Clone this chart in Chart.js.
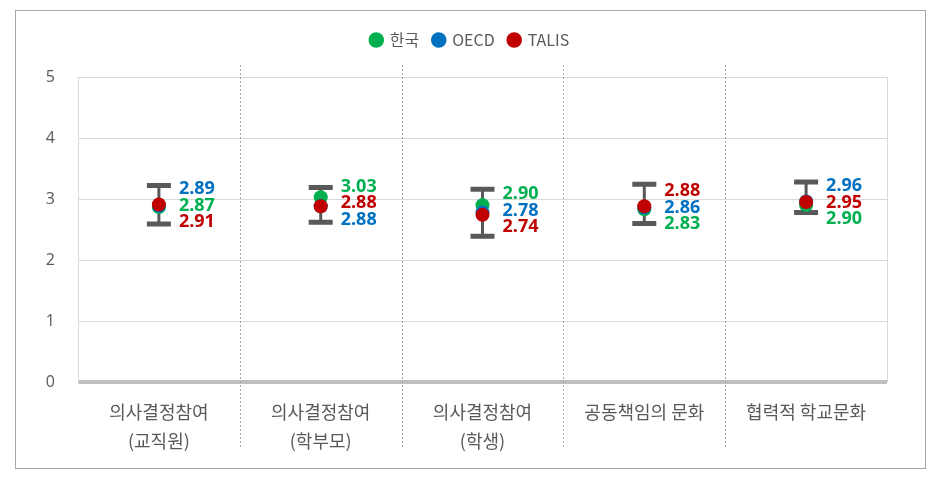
<!DOCTYPE html>
<html>
<head>
<meta charset="utf-8">
<script src="https://cdn.jsdelivr.net/npm/chart.js@4"></script>
<style>
  html, body { margin: 0; padding: 0; background: #fff; }
  #wrap { width: 940px; height: 483px; position: relative; }
</style>
</head>
<body>
<div id="wrap"><canvas id="myChart" width="940" height="483"></canvas></div>
<script>
// categories (two-line labels)
const categories = [
  ['의사결정참여', '(교직원)'],
  ['의사결정참여', '(학부모)'],
  ['의사결정참여', '(학생)'],
  ['공동책임의 문화', ''],
  ['협력적 학교문화', '']
];
const seriesNames = ['한국', 'OECD', 'TALIS'];
const korea = [2.87, 3.03, 2.90, 2.83, 2.90];
const oecd  = [2.89, 2.88, 2.78, 2.86, 2.96];
const talis = [2.91, 2.88, 2.74, 2.88, 2.95];
// error bar range
const errLow  = [2.59, 2.62, 2.39, 2.60, 2.78];
const errHigh = [3.22, 3.19, 3.16, 3.24, 3.28];
// value label stacking, top to bottom (series index)
const labelStack = [[1, 0, 2], [0, 2, 1], [0, 1, 2], [2, 1, 0], [1, 2, 0]];
const yTicks = [0, 1, 2, 3, 4, 5];

const colors = ['#00B050', '#0070C0', '#C00000'];
const textGray = '#595959';
const series = [korea, oecd, talis];

const frame = {
  id: 'frame',
  beforeDraw(chart) {
    const c = chart.ctx;
    c.save();
    c.strokeStyle = '#a6a6a6';
    c.lineWidth = 1;
    c.strokeRect(15.5, 10.5, 910, 458);
    c.restore();
  },
  beforeDatasetsDraw(chart) {
    const c = chart.ctx, a = chart.chartArea, x = chart.scales.x, y = chart.scales.y;
    c.save();
    // right border of plot
    c.strokeStyle = '#d9d9d9';
    c.lineWidth = 1;
    c.beginPath();
    c.moveTo(Math.round(a.right) + 0.5, a.top);
    c.lineTo(Math.round(a.right) + 0.5, a.bottom);
    c.stroke();
    // dashed dividers
    c.strokeStyle = '#a6a6a6';
    c.setLineDash([2, 2]);
    for (let i = 1; i < categories.length; i++) {
      const px = Math.round((x.getPixelForValue(i - 1) + x.getPixelForValue(i)) / 2) + 0.5;
      c.beginPath();
      c.moveTo(px, a.top - 12);
      c.lineTo(px, 448);
      c.stroke();
    }
    c.setLineDash([]);
    // error bars
    c.strokeStyle = '#595959';
    for (let i = 0; i < categories.length; i++) {
      const px = x.getPixelForValue(i);
      const y1 = y.getPixelForValue(errHigh[i]), y2 = y.getPixelForValue(errLow[i]);
      c.lineWidth = 3;
      c.beginPath();
      c.moveTo(px, y1);
      c.lineTo(px, y2);
      c.stroke();
      c.lineWidth = 5;
      c.beginPath();
      c.moveTo(px - 12, y1); c.lineTo(px + 12, y1);
      c.moveTo(px - 12, y2); c.lineTo(px + 12, y2);
      c.stroke();
    }
    c.restore();
  },
  afterDatasetsDraw(chart) {
    const c = chart.ctx, x = chart.scales.x, y = chart.scales.y;
    c.save();
    c.font = 'bold 18px "Open Sans", sans-serif';
    c.textAlign = 'left';
    c.textBaseline = 'middle';
    for (let i = 0; i < categories.length; i++) {
      const px = x.getPixelForValue(i) + 20;
      const mean = (korea[i] + oecd[i] + talis[i]) / 3;
      const cy = y.getPixelForValue(mean);
      labelStack[i].forEach((s, k) => {
        c.fillStyle = colors[s];
        c.fillText(series[s][i].toFixed(2), px, cy + (k - 1) * 16.5);
      });
    }
    c.restore();
  }
};

const data = {
  labels: categories,
  datasets: series.map((vals, s) => ({
    label: seriesNames[s],
    data: vals,
    showLine: false,
    backgroundColor: colors[s],
    borderColor: colors[s],
    pointRadius: 7,
    pointHoverRadius: 7,
    pointBorderWidth: 0,
    order: 2 - s
  }))
};

const config = {
  type: 'line',
  data: data,
  options: {
    responsive: false,
    animation: false,
    layout: { padding: { top: 18, right: 0, left: 0, bottom: 0 } },
    scales: {
      x: {
        offset: true,
        grid: { display: false },
        border: { display: false },
        ticks: {
          color: textGray,
          font: { family: '"Noto Sans CJK KR", sans-serif', size: 18, lineHeight: 1.6 },
          padding: 8,
          maxRotation: 0,
          autoSkip: false
        },
        afterFit(scale) { scale.height = 101; }
      },
      y: {
        min: 0,
        max: 5,
        afterBuildTicks(scale) { scale.ticks = yTicks.map(v => ({ value: v })); },
        grid: {
          drawTicks: false,
          color: ctx => ctx.tick.value === 0 ? '#bfbfbf' : '#d9d9d9',
          lineWidth: ctx => ctx.tick.value === 0 ? 4 : 1
        },
        border: { color: '#d9d9d9' },
        ticks: {
          color: textGray,
          font: { family: '"Open Sans", sans-serif', size: 16 },
          padding: 23
        },
        afterFit(scale) { scale.width = 78; }
      },
      // empty right axis, keeps room on the right of the plot
      yRight: {
        position: 'right',
        min: 0,
        max: 5,
        grid: { display: false },
        border: { display: false },
        ticks: { display: false },
        afterFit(scale) { scale.width = 53; }
      }
    },
    plugins: {
      legend: {
        display: true,
        position: 'top',
        labels: {
          usePointStyle: true,
          pointStyle: 'circle',
          boxWidth: 11,
          boxHeight: 11,
          color: textGray,
          padding: 14,
          font: { family: '"Noto Sans CJK KR", "Open Sans", sans-serif', size: 16 },
          sort: (a, b) => a.datasetIndex - b.datasetIndex
        }
      },
      // empty title used as a spacer between the legend and the plot
      title: {
        display: true,
        text: '',
        weight: 500,
        font: { size: 1, lineHeight: 1 },
        padding: { top: 0, bottom: 18 }
      },
      tooltip: { enabled: false }
    }
  },
  plugins: [frame]
};

const myChart = new Chart(document.getElementById('myChart'), config);
</script>
</body>
</html>
